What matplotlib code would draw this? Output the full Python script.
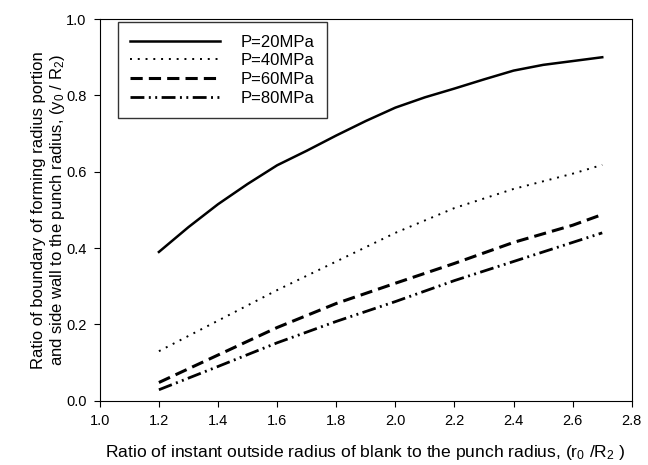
import matplotlib
matplotlib.use("Agg")
import matplotlib.pyplot as plt
from matplotlib.ticker import FormatStrFormatter

plt.rcParams["font.family"] = ["Liberation Sans", "DejaVu Sans"]
plt.rcParams["mathtext.default"] = "regular"

# ratio r0/R2
ratio_fine = [1.2, 1.3, 1.4, 1.5, 1.6, 1.7, 1.8, 1.9, 2.0,
              2.1, 2.2, 2.3, 2.4, 2.5, 2.6, 2.7]
ratio = [1.2, 1.4, 1.6, 1.8, 2.0, 2.2, 2.4, 2.6, 2.7]

# y0/R2 for each pressure
p20 = [0.39, 0.455, 0.515, 0.568, 0.617, 0.655, 0.695, 0.733, 0.768,
       0.795, 0.818, 0.842, 0.865, 0.88, 0.89, 0.90]
p40 = [0.13, 0.21, 0.29, 0.365, 0.44, 0.505, 0.555, 0.595, 0.618]
p60 = [0.048, 0.12, 0.192, 0.255, 0.308, 0.36, 0.415, 0.46, 0.488]
p80 = [0.029, 0.09, 0.152, 0.208, 0.26, 0.315, 0.365, 0.415, 0.44]

labels = ["P=20MPa", "P=40MPa", "P=60MPa", "P=80MPa"]

fig = plt.figure(figsize=(6.48, 4.65), dpi=100)
ax = fig.add_axes([0.154, 0.138, 0.821, 0.821])

ax.plot(ratio_fine, p20, color="black", lw=1.8, linestyle="-", label=labels[0])
ax.plot(ratio, p40, color="black", lw=1.4, linestyle=(0, (1, 3)), label=labels[1])
ax.plot(ratio, p60, color="black", lw=2.2, linestyle=(0, (4, 2)), label=labels[2])
ax.plot(ratio, p80, color="black", lw=2.0,
        linestyle=(0, (5, 1.6, 0.7, 1.6, 0.7, 1.6)), label=labels[3])

ax.set_xlim(1.0, 2.8)
ax.set_ylim(0.0, 1.0)
ax.set_xticks([1.0, 1.2, 1.4, 1.6, 1.8, 2.0, 2.2, 2.4, 2.6, 2.8])
ax.set_yticks([0.0, 0.2, 0.4, 0.6, 0.8, 1.0])
ax.xaxis.set_major_formatter(FormatStrFormatter("%.1f"))
ax.yaxis.set_major_formatter(FormatStrFormatter("%.1f"))
ax.tick_params(direction="out", length=4.5, labelsize=10.5, pad=5)

ax.set_xlabel("Ratio of instant outside radius of blank to the punch radius, ($r_0$ /$R_2$ )",
              fontsize=12.6, labelpad=11)
ax.set_ylabel("Ratio of boundary of forming radius portion\nand side wall to the punch radius, ($y_0$ / $R_2$)",
              fontsize=12, labelpad=-1)

leg = ax.legend(loc="upper left", bbox_to_anchor=(0.034, 0.992), borderaxespad=0,
                frameon=True, fancybox=False, edgecolor="black",
                handlelength=5.4, handletextpad=1.2, fontsize=12,
                borderpad=0.75, labelspacing=0.22)
leg.get_frame().set_linewidth(1.0)

fig.savefig("out.png", dpi=100)
